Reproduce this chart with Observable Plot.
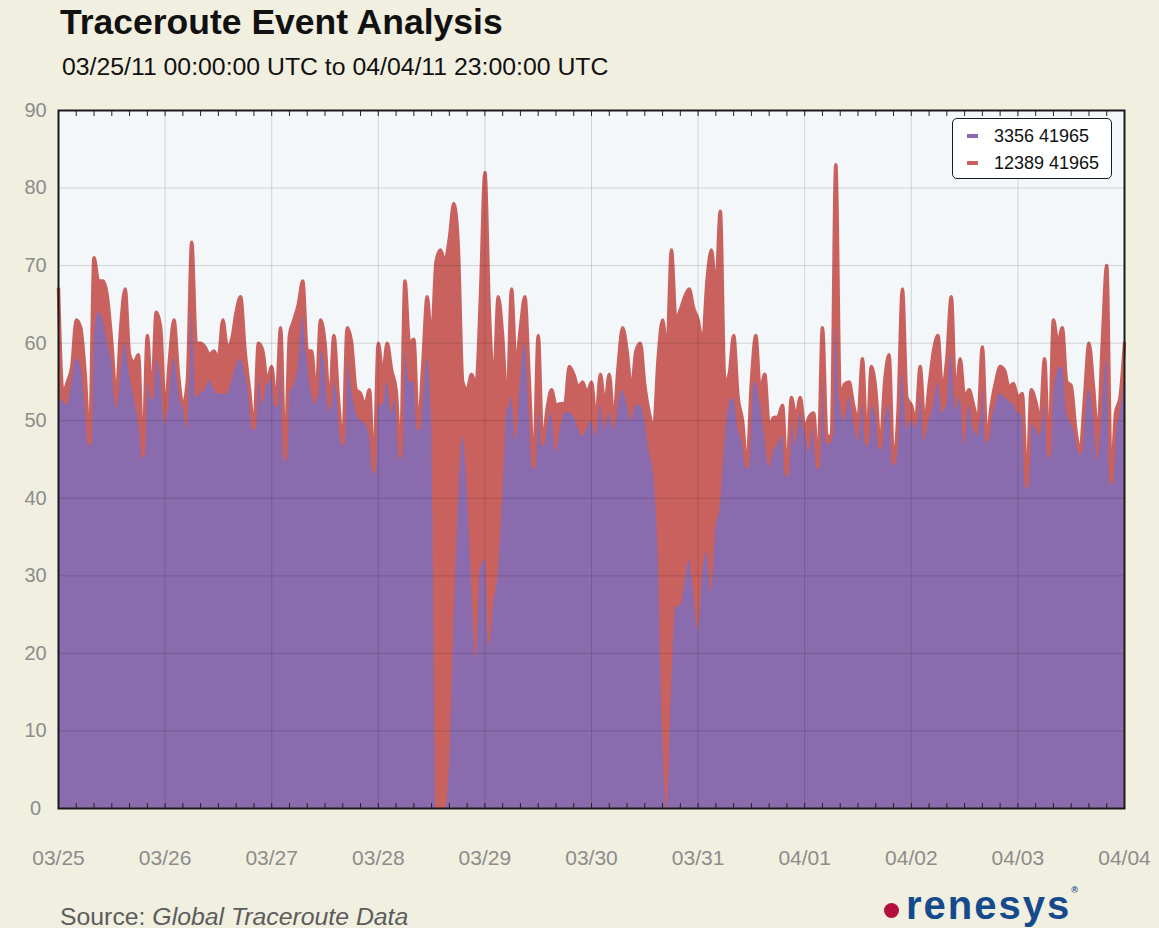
<!DOCTYPE html>
<html><head><meta charset="utf-8">
<script src="https://cdn.jsdelivr.net/npm/d3@7"></script>
<script src="https://cdn.jsdelivr.net/npm/@observablehq/plot@0.6"></script>
<style>
html,body{margin:0;padding:0;background:#f1efe0;overflow:hidden;}
body{width:1159px;height:928px;position:relative;font-family:"Liberation Sans",Arial,Helvetica,sans-serif;}
#title{position:absolute;left:60px;top:5px;font-size:35.5px;line-height:1;font-weight:bold;color:#111;white-space:nowrap;}
#subtitle{position:absolute;left:62px;top:55px;font-size:24.8px;line-height:1;color:#111;white-space:nowrap;}
#chart{position:absolute;left:0;top:95px;}
#legend{position:absolute;left:952px;top:118px;width:158px;height:59px;background:#fff;border:1.5px solid #1a1a1a;border-radius:5px;font-size:18px;color:#111;}
.item{position:absolute;left:0;height:20px;line-height:20px;white-space:nowrap;}
.sw{position:absolute;left:14px;top:8px;width:11px;height:4px;}
.lab{position:absolute;left:41px;top:0;}
#source{position:absolute;left:60px;top:905px;font-size:24.8px;line-height:1;color:#5c5c5c;white-space:nowrap;}
#logo{position:absolute;left:884px;top:885px;font-size:40px;line-height:1;font-weight:bold;color:#154b8c;white-space:nowrap;letter-spacing:2px;}
#logo .dot{display:inline-block;width:15px;height:15px;border-radius:50%;background:#b3103d;margin-right:7px;vertical-align:1px;}
#logo sup{font-size:9px;vertical-align:26px;color:#154b8c;}
</style></head>
<body>
<div id="title">Traceroute Event Analysis</div>
<div id="subtitle">03/25/11 00:00:00 UTC to 04/04/11 23:00:00 UTC</div>
<div id="chart"></div>
<div id="legend"></div>
<div id="source">Source: <i>Global Traceroute Data</i></div>
<div id="logo"><span class="dot"></span>renesys<sup>®</sup></div>
<script>
// Series names and colours
const seriesNames = ["3356 41965", "12389 41965"];
const seriesColors = ["#8a6bad", "#c9625f"];
// Start / end of hourly series (UTC)
const startTime = "2011-03-25T00:00:00Z";
const endTime = "2011-04-04T00:00:00Z";
// Hourly values, series 12389 41965 (red, drawn behind)
const red12389 = [
67, 53.5, 55, 57, 63, 62, 56, 47, 71, 68,
68, 66, 60, 53, 62, 67, 58.5, 57.5, 58.5, 45.5,
61, 53, 64, 62, 51, 58, 63, 56, 52, 55,
73, 60, 60, 59.5, 58.5, 59, 58, 63, 59.5, 60.5,
64, 66, 59, 54, 49, 60, 59, 55, 57, 52,
62, 45, 61, 63, 65, 68, 59, 59, 53, 63,
60, 52, 61, 53, 47, 62, 60, 54, 53.5, 52,
54, 43.5, 60, 56, 60, 56.5, 54, 45.5, 68, 60,
60.5, 49, 57, 66, 60.5, 70.5, 72, 70.5, 73.5, 78,
72.5, 55, 54, 56, 54.5, 66, 82, 64, 55, 66,
60.8, 51.8, 67, 57, 62, 66, 55, 44, 61, 47,
51.5, 54, 52, 52.2, 52.2, 57, 56, 54.3, 55, 53.5,
55, 50, 56, 52, 56, 50, 57, 62, 59, 54,
59, 60, 54.5, 51, 49, 58, 63, 59, 72, 63,
64.3, 66, 67, 64.5, 63, 60, 68, 72, 67, 77,
55, 56, 61, 53, 50, 44, 55, 61, 53.7, 56,
49.3, 50.4, 50.5, 52, 43, 53, 50.5, 53, 49, 50.5,
51, 44, 62, 48, 48, 83, 53, 54.7, 55, 52,
50, 58, 47, 57, 54, 46.5, 55, 58.5, 44.5, 51,
67, 53, 52, 50, 57, 49.6, 54.5, 59, 61, 54,
58, 66, 53, 58, 53, 54, 52, 50, 59.5, 47.5,
52, 55, 57, 56.5, 54.3, 54.8, 53, 53.5, 41.5, 54,
52.5, 50, 58, 45.5, 63, 60, 62, 55, 54.5, 49,
46, 53, 60, 54.5, 48, 60, 70, 42, 51, 53, 60
];
// Hourly values, series 3356 41965 (purple, drawn in front)
const purple3356 = [
53, 52.5, 52, 55, 58, 57, 52, 47, 60, 64,
63, 60, 57.5, 51.5, 56, 60, 56, 53, 50, 45.5,
55, 53, 58, 55.5, 49.5, 54, 58, 54.5, 52, 49,
64, 53, 53.5, 54, 55.2, 54, 53.4, 53.4, 53.4, 55,
57, 58, 56, 53, 49, 56, 52, 55, 55.5, 51.8,
57.5, 45, 53.5, 54.5, 57, 63.5, 57.8, 53.4, 52, 59,
57, 51, 55, 52, 47, 58, 54, 51, 50, 49.6,
48, 43, 52, 52, 55, 51, 53, 45, 59, 55,
55, 49, 52, 58, 50, 0, 0, 0, 5, 23,
38.7, 48, 41.3, 29, 19.4, 30.8, 32, 21, 26.4, 30.3,
40, 51.5, 53, 47.5, 55, 60, 51, 44, 51, 47,
49, 51, 46, 49, 51, 51, 50.5, 49, 48, 49,
50, 48, 52, 49, 51, 49, 52, 54, 52, 50,
52, 52, 50, 46, 43, 33, 10, 0, 15, 26,
26, 29, 32, 28, 23, 30, 33, 28, 36, 39,
47, 52, 53, 49, 47, 44, 53, 55, 52, 48,
44, 46, 47, 48, 43, 50, 47, 51, 49, 46,
49, 44, 55, 47, 47, 62, 52, 50, 53, 50,
47.5, 52, 46.5, 52, 50.5, 46.5, 50, 52, 44.5, 48,
56, 49, 50, 49, 53, 47.5, 50, 52, 55, 51,
52, 58.5, 51.5, 53, 47, 52, 49, 48, 54.5, 47,
50, 52, 53.5, 53, 52.5, 52, 51, 50.5, 41.5, 49.5,
49, 48, 52, 45.5, 53, 56.5, 57, 51, 49.5, 48,
45.5, 49.5, 54, 50.5, 45, 52, 58, 42, 48, 51, 55
];
const yTicks = [0, 10, 20, 30, 40, 50, 60, 70, 80, 90];
const yGrid = [10, 20, 30, 40, 50, 60, 70, 80];

const t0 = new Date(startTime);
const t1 = new Date(endTime);
const table = red12389.map((r, i) => ({
  date: d3.utcHour.offset(t0, i),
  red: r,
  purple: purple3356[i]
}));
const days = d3.utcDay.range(t0, d3.utcDay.offset(t1, 1));
const innerDays = days.filter(d => +d > +t0 && +d < +t1);
const fourHours = d3.utcHour.every(4).range(t0, t1).filter(d => +d > +t0);
const [purpleC, redC] = seriesColors;

const chart = Plot.plot({
  width: 1159,
  height: 783,
  marginLeft: 58,
  marginRight: 35,
  marginTop: 15,
  marginBottom: 70,
  style: {background: "transparent", fontFamily: "Liberation Sans, Arial, sans-serif", overflow: "visible"},
  x: {type: "utc", domain: [t0, t1]},
  y: {domain: [0, 90]},
  marks: [
    Plot.frame({fill: "#f3f7fa", stroke: null}),
    Plot.areaY(table, {x: "date", y: "red", fill: redC, curve: "monotone-x"}),
    Plot.areaY(table, {x: "date", y: "purple", fill: purpleC, curve: "monotone-x"}),
    Plot.lineY(table, {x: "date", y: "red", stroke: redC, strokeWidth: 3.5, strokeLinejoin: "round", strokeLinecap: "round", curve: "monotone-x"}),
    Plot.gridY({ticks: yGrid, stroke: "#000", strokeOpacity: 0.14, strokeWidth: 1}),
    Plot.gridX({ticks: innerDays, stroke: "#000", strokeOpacity: 0.14, strokeWidth: 1}),
    Plot.axisY({ticks: yTicks, tickSize: 0, tickPadding: 23, textAnchor: "middle", fontSize: 20, fill: "#8c8c8c", label: null}),
    Plot.axisX({ticks: days, tickFormat: d3.utcFormat("%m/%d"), tickSize: 0, tickPadding: 42, fontSize: 21, fill: "#8c8c8c", label: null}),
    Plot.axisX({anchor: "bottom", ticks: fourHours, tickSize: 5, dy: -5, tickFormat: () => "", stroke: "#222", label: null}),
    Plot.axisX({anchor: "top", ticks: fourHours, tickSize: 5, dy: 5, tickFormat: () => "", stroke: "#222", label: null}),
    Plot.frame({stroke: "#1a1a1a", strokeWidth: 2})
  ]
});
document.getElementById("chart").appendChild(chart);

const legend = document.getElementById("legend");
seriesNames.forEach((name, i) => {
  const item = document.createElement("div");
  item.className = "item";
  item.style.top = (i === 0 ? 7 : 34) + "px";
  item.innerHTML = `<span class="sw" style="background:${seriesColors[i]}"></span><span class="lab">${name}</span>`;
  legend.appendChild(item);
});
</script>
</body></html>
